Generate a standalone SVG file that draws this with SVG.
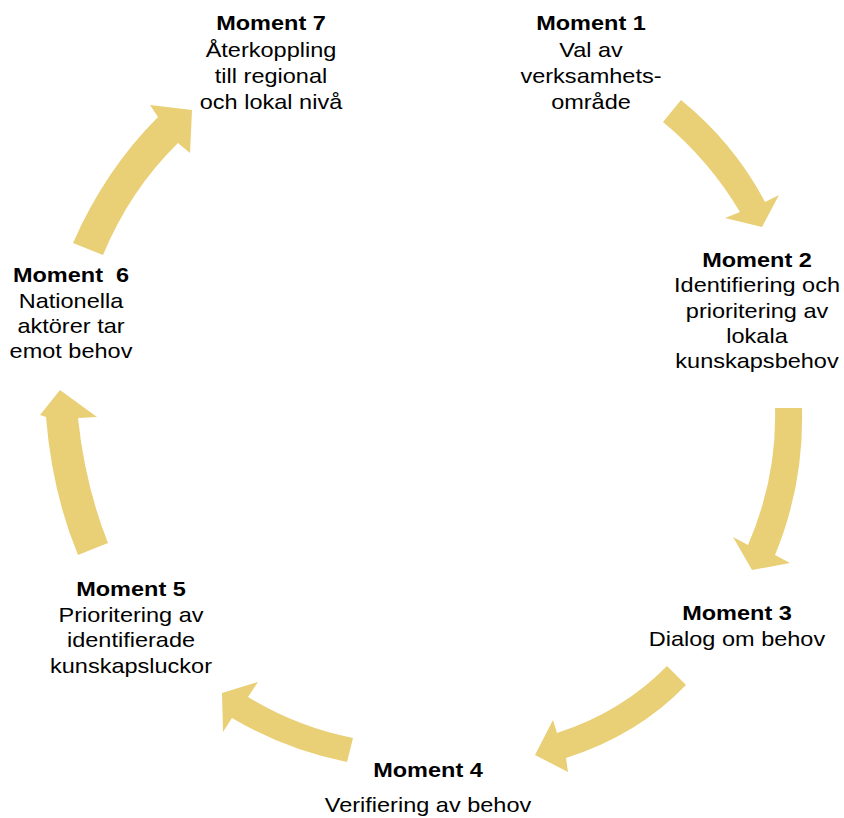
<svg xmlns="http://www.w3.org/2000/svg" width="844" height="818" viewBox="0 0 844 818">
<style>
.arrow{fill:#E9CF76;stroke:none}
text{font-family:"Liberation Sans",Arial,sans-serif;font-size:21px;fill:#000;text-anchor:middle}
.b{font-weight:bold}
</style>
<rect width="844" height="818" fill="#fff"/>
<g id="connectors">
<path class="arrow" d="M663,122 L681,100 Q734,143 765,202 L779,195 L762,227 L725,218 L740,212 Q709,160 663,122 Z"/>
<path class="arrow" d="M775,408 L802,408 Q804,485 775,555 L790,563 L752,570 L733,537 L748,545 Q777,478 775,408 Z"/>
<path class="arrow" d="M667,666 L686,685 Q638,735 566,758 L568,772 L535,755 L553,720 L557,733 Q622,712 667,666 Z"/>
<path class="arrow" d="M353,738 L347,762 Q286,750 232,718 L223,732 L222,693 L258,682 L248,697 Q297,727 353,738 Z"/>
<path class="arrow" d="M78,555 L108,543 Q85,485 78,418 L97,417 L60,390 L40,415 L46,417 Q52,492 78,555 Z"/>
<path class="arrow" d="M73,243 Q105,170 158,117 L150,105 L192,110 L190,153 L178,143 Q130,190 103,255 Z"/>
</g>
<g id="moment1" transform="translate(591 0) scale(1.12 1)">
<text class="b" x="0" y="30">Moment 1</text>
<text x="0" y="57">Val av</text>
<text x="0" y="83">verksamhets-</text>
<text x="0" y="109">område</text>
</g>
<g id="moment2" transform="translate(757 0) scale(1.12 1)">
<text class="b" x="0" y="267">Moment 2</text>
<text x="0" y="292">Identifiering och</text>
<text x="0" y="318">prioritering av</text>
<text x="0" y="343">lokala</text>
<text x="0" y="368">kunskapsbehov</text>
</g>
<g id="moment3" transform="translate(737 0) scale(1.12 1)">
<text class="b" x="0" y="620">Moment 3</text>
<text x="0" y="646">Dialog om behov</text>
</g>
<g id="moment4" transform="translate(428 0) scale(1.12 1)">
<text class="b" x="0" y="777">Moment 4</text>
<text x="0" y="812">Verifiering av behov</text>
</g>
<g id="moment5" transform="translate(131 0) scale(1.12 1)">
<text class="b" x="0" y="596">Moment 5</text>
<text x="0" y="622">Prioritering av</text>
<text x="0" y="647">identifierade</text>
<text x="0" y="673">kunskapsluckor</text>
</g>
<g id="moment6" transform="translate(71 0) scale(1.12 1)">
<text class="b" x="0" y="282">Moment&#160; 6</text>
<text x="0" y="308">Nationella</text>
<text x="0" y="333">aktörer tar</text>
<text x="0" y="358">emot behov</text>
</g>
<g id="moment7" transform="translate(271 0) scale(1.12 1)">
<text class="b" x="0" y="30">Moment 7</text>
<text x="0" y="57">Återkoppling</text>
<text x="0" y="83">till regional</text>
<text x="0" y="109">och lokal nivå</text>
</g>
</svg>
